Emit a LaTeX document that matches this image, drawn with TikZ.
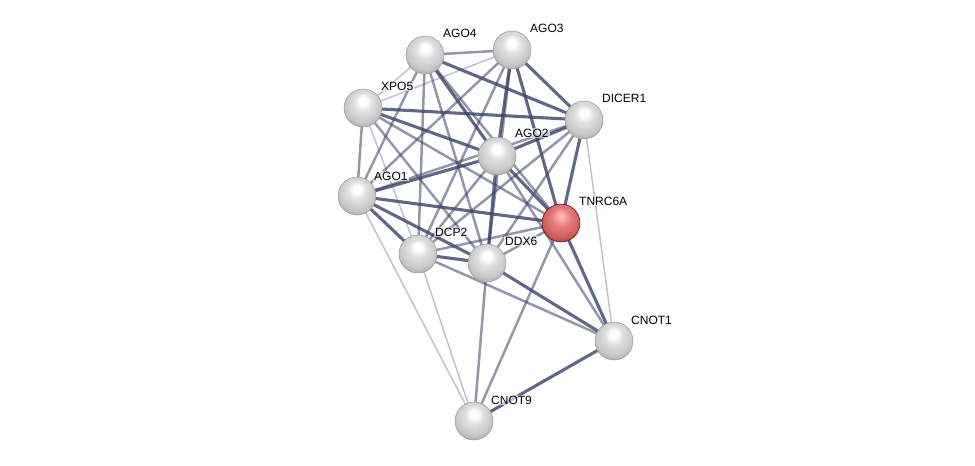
\documentclass[tikz,border=0pt]{standalone}
\usepackage{fontspec}
\setmainfont{Liberation Sans}
\pgfdeclareradialshading{sphgray}{\pgfpoint{0bp}{10bp}}{color(0bp)=(white); color(5bp)=(white); color(12bp)=(white!88!black); color(24bp)=(white!78!black); color(31bp)=(white!66!black); color(35bp)=(white!50!black); color(50bp)=(white!50!black)}
\pgfdeclareradialshading{sphred}{\pgfpoint{0bp}{10bp}}{color(0bp)=(white!75!red); color(5bp)=(red!35!white); color(12bp)=(red!45!white!90!black); color(24bp)=(red!55!white!82!black); color(31bp)=(red!60!white!65!black); color(35bp)=(red!60!black); color(50bp)=(red!60!black)}
\definecolor{edgec}{RGB}{58,66,104}
\tikzset{
  prot/.style={circle, minimum size=38pt, inner sep=0pt, shading=sphgray, draw=black!40, line width=0.5pt},
  protred/.style={prot, shading=sphred, draw=red!35!black},
  lab/.style={font=\fontsize{12pt}{13pt}\selectfont, anchor=west, inner sep=1pt, fill=white, fill opacity=0.6, text opacity=1},
  ethick/.style={draw=edgec, line width=3.1pt, opacity=0.8},
  emed/.style={draw=edgec, line width=2.5pt, opacity=0.55},
  elight/.style={draw=edgec, line width=1.5pt, opacity=0.32},
}
\begin{document}
\begin{tikzpicture}[x=1pt,y=-1pt]
\useasboundingbox (0,0) rectangle (975,466);
% coordinates
\coordinate (cA4) at (425,55);
\coordinate (cA3) at (512,50);
\coordinate (cX) at (363,108);
\coordinate (cD) at (584,120);
\coordinate (cA2) at (497,156);
\coordinate (cA1) at (357,196);
\coordinate (cT) at (561,223);
\coordinate (cP) at (418,254);
\coordinate (cX6) at (487,263);
\coordinate (cC1) at (614,341);
\coordinate (cC9) at (474,421);
% edges
\draw[emed] (cA4) -- (cA3);
\draw[elight] (cA4) -- (cX);
\draw[ethick] (cA4) -- (cD);
\draw[ethick] (cA4) -- (cA2);
\draw[emed] (cA4) -- (cA1);
\draw[emed] (cA4) -- (cP);
\draw[emed] (cA4) -- (cX6);
\draw[emed] (cA4) -- (cT);
\draw[elight] (cA3) -- (cX);
\draw[ethick] (cA3) -- (cD);
\draw[ethick] (cA3) -- (cA2);
\draw[ethick] (cA3) -- (cT);
\draw[emed] (cA3) -- (cA1);
\draw[emed] (cA3) -- (cP);
\draw[emed] (cA3) -- (cX6);
\draw[ethick] (cX) -- (cD);
\draw[emed] (cX) -- (cA1);
\draw[ethick] (cX) -- (cA2);
\draw[emed] (cX) -- (cT);
\draw[elight] (cX) -- (cP);
\draw[emed] (cX) -- (cX6);
\draw[ethick] (cD) -- (cA2);
\draw[ethick] (cD) -- (cT);
\draw[emed] (cD) -- (cA1);
\draw[emed] (cD) -- (cP);
\draw[emed] (cD) -- (cX6);
\draw[elight] (cD) -- (cC1);
\draw[ethick] (cA2) -- (cA1);
\draw[ethick] (cA2) -- (cT);
\draw[emed] (cA2) -- (cP);
\draw[ethick] (cA2) -- (cX6);
\draw[emed] (cA2) -- (cC1);
\draw[ethick] (cA1) -- (cT);
\draw[ethick] (cA1) -- (cP);
\draw[ethick] (cA1) -- (cX6);
\draw[elight] (cA1) -- (cC9);
\draw[emed] (cT) -- (cP);
\draw[emed] (cT) -- (cX6);
\draw[ethick] (cT) -- (cC1);
\draw[emed] (cT) -- (cC9);
\draw[ethick] (cP) -- (cX6);
\draw[emed] (cP) -- (cC1);
\draw[elight] (cP) -- (cC9);
\draw[ethick] (cX6) -- (cC1);
\draw[emed] (cX6) -- (cC9);
\draw[ethick] (cC1) -- (cC9);
% nodes
\node[prot] (A4) at (cA4) {};
\node[prot] (A3) at (cA3) {};
\node[prot] (X) at (cX) {};
\node[prot] (D) at (cD) {};
\node[prot] (A2) at (cA2) {};
\node[prot] (A1) at (cA1) {};
\node[protred] (T) at (cT) {};
\node[prot] (P) at (cP) {};
\node[prot] (X6) at (cX6) {};
\node[prot] (C1) at (cC1) {};
\node[prot] (C9) at (cC9) {};
% labels
\node[lab] (lA4) at (442,33) {AGO4};
\node[lab] (lA3) at (529,28) {AGO3};
\node[lab] (lX) at (380,86) {XPO5};
\node[lab] (lD) at (601,98) {DICER1};
\node[lab] (lA2) at (514,133) {AGO2};
\node[lab] (lA1) at (373,176) {AGO1};
\node[lab] (lT) at (578,201) {TNRC6A};
\node[lab] (lP) at (434,232) {DCP2};
\node[lab] (lX6) at (504,241) {DDX6};
\node[lab] (lC1) at (630,320) {CNOT1};
\node[lab] (lC9) at (490,400) {CNOT9};
\end{tikzpicture}
\end{document}
